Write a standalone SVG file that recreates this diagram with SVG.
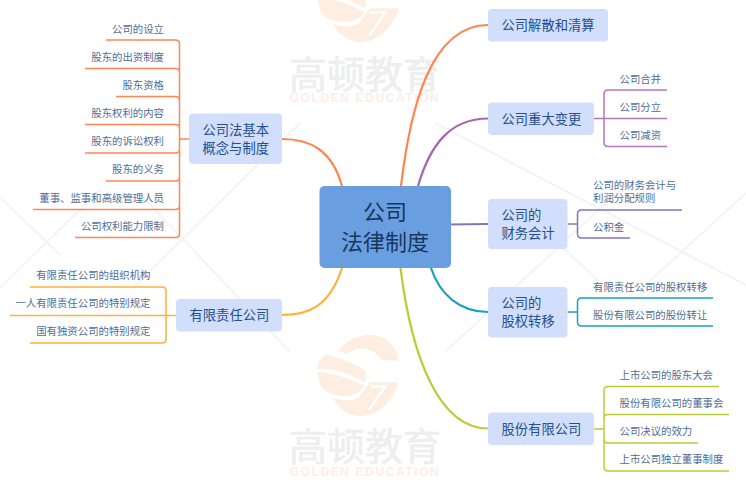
<svg xmlns="http://www.w3.org/2000/svg" width="746" height="485" viewBox="0 0 746 485">
<style>
text{font-family:"Noto Sans CJK SC","Liberation Sans",sans-serif}
.n{fill:#d1dffc}
.t{font-size:13.3px;fill:#254f8c}
.l{font-size:10.4px;fill:#4d6d99}
.e{text-anchor:end}
.c{fill:none;stroke-width:2.2;stroke-linecap:round}
.b{fill:none;stroke-width:1.5}
.wm{font-size:38px;fill:#eeeeee;stroke:#eeeeee;stroke-width:.5;text-anchor:middle}
.ws{font-size:12px;fill:#fdeee5;text-anchor:middle;font-family:"Liberation Sans",sans-serif;font-weight:bold;letter-spacing:1.6px}
.logo{fill:#feeee2}
.x{stroke:#f4f4f4;stroke-width:2.2;fill:none}
</style>
<defs>
<g id="logo" transform="scale(.3333)">
<path class="logo" d="M205 62C230 30 265 15 300 15C345 15 385 50 385 92L335 90C322 68 295 52 265 56C250 58 240 64 232 72Z"/>
<path class="logo" d="M165 73C210 85 255 100 285 122C288 135 288 145 285 157C240 130 190 112 141 118C143 100 152 85 165 73Z"/>
<path class="logo" d="M143 125C190 128 245 148 283 168C270 190 245 200 215 198C190 195 165 185 153 170C148 155 145 140 143 125Z"/>
<path class="logo" d="M190 205C210 212 240 215 265 203L300 157H385C375 205 330 258 270 258C235 258 205 235 190 205Z"/>
<path d="M300 170H345L298 238" fill="none" stroke="#fff" stroke-width="7"/>
</g>
</defs>
<g id="watermark">
<path class="x" d="M0 197L60 255M0 288L100 190M143 197L290 352M300 123L133 288M435 123L746 285M746 193L640 290M445 352L620 190M560 245L606 288"/>
<use href="#logo" x="270" y="-44"/>
<use href="#logo" x="270" y="330"/>
<text class="wm" x="365" y="88">高顿教育</text>
<text class="ws" x="365" y="101.500">GOLDEN EDUCATION</text>
<text class="wm" x="365" y="460">高顿教育</text>
<text class="ws" x="365" y="476">GOLDEN EDUCATION</text>
</g>
<g id="connectors">
<g class="c">
<path stroke="#ff8651" d="M401 186C410 110 430 25 488 25"/>
<path stroke="#a566ad" d="M418 186C430 145 450 118.500 488 118.500"/>
<path stroke="#8b72bd" d="M451 224.500C465 224 475 224 488 224"/>
<path stroke="#18a2bb" d="M431 268C440 295 460 312 488 312"/>
<path stroke="#bacd38" d="M400.500 268C412 360 440 428.500 488 428.500"/>
<path stroke="#ff8651" d="M282 139C310 139 332 150 342 186"/>
<path stroke="#ffb03a" d="M282 315C310 315 330 305 342 268"/>
</g>
<g class="b">
<path stroke="#ff8651" d="M189 139H179.500M106 40H175.500Q179.500 40 179.500 44V233.500Q179.500 237.500 175.500 237.500H75M85 68.500H175.500Q179.500 68.500 179.500 72.500M116 96.500H175.500Q179.500 96.500 179.500 100.500M85 124.500H175.500Q179.500 124.500 179.500 128.500M85 153H175.500Q179.500 153 179.500 149M106 181H175.500Q179.500 181 179.500 177M33 209.500H175.500Q179.500 209.500 179.500 205.500"/>
<path stroke="#ffb03a" d="M176 315.500H10M30 287H162Q166 287 166 291V339Q166 343 162 343H30"/>
<path stroke="#b177bd" d="M594 118.500H667M667 90H608Q604 90 604 94V142.500Q604 146.500 608 146.500H667"/>
<path stroke="#8b72bd" d="M567.500 224H577.500M682 210H581.500Q577.500 210 577.500 214V234Q577.500 238 581.500 238H630"/>
<path stroke="#18a2bb" d="M567.500 312H577.500M713 298H581.500Q577.500 298 577.500 302V322Q577.500 326 581.500 326H713"/>
<path stroke="#bacd38" d="M594 429H604M719 386.500H608Q604 386.500 604 390.500V467Q604 471 608 471H729M729 414.500H608Q604 414.500 604 418.500M698 443H608Q604 443 604 439"/>
</g>
</g>
<g id="center"><rect x="319.500" y="186" width="131.500" height="82" rx="5" fill="#699fe0"/>
<text x="385" y="219.500" font-size="22" fill="#17375f" text-anchor="middle">公司</text>
<text x="385" y="250" font-size="22" fill="#17375f" text-anchor="middle">法律制度</text></g>
<g id="n1"><rect class="n" x="189" y="113.500" width="93" height="50.500" rx="4"/><text class="t" x="202.500" y="135">公司法基本</text><text class="t" x="202.500" y="153">概念与制度</text></g>
<g id="n2"><rect class="n" x="176" y="299" width="106" height="32.500" rx="4"/><text class="t" x="189.500" y="320">有限责任公司</text></g>
<g id="n3"><rect class="n" x="488" y="9" width="120" height="32.500" rx="4"/><text class="t" x="501.500" y="30">公司解散和清算</text></g>
<g id="n4"><rect class="n" x="488" y="102.500" width="106" height="32.500" rx="4"/><text class="t" x="501.500" y="123.500">公司重大变更</text></g>
<g id="n5"><rect class="n" x="488" y="199" width="79.500" height="50" rx="4"/><text class="t" x="501.500" y="220">公司的</text><text class="t" x="501.500" y="238">财务会计</text></g>
<g id="n6"><rect class="n" x="488" y="287" width="79.500" height="50.500" rx="4"/><text class="t" x="501.500" y="308">公司的</text><text class="t" x="501.500" y="326">股权转移</text></g>
<g id="n7"><rect class="n" x="488" y="412.500" width="106" height="32.500" rx="4"/><text class="t" x="501.500" y="433.500">股份有限公司</text></g>
<g id="l1">
<text class="l e" x="164" y="33">公司的设立</text>
<text class="l e" x="164" y="61">股东的出资制度</text>
<text class="l e" x="164" y="89">股东资格</text>
<text class="l e" x="164" y="117">股东权利的内容</text>
<text class="l e" x="164" y="145">股东的诉讼权利</text>
<text class="l e" x="164" y="173">股东的义务</text>
<text class="l e" x="164" y="202">董事、监事和高级管理人员</text>
<text class="l e" x="164" y="230">公司权利能力限制</text>
</g>
<g id="l2">
<text class="l e" x="150.500" y="279">有限责任公司的组织机构</text>
<text class="l e" x="150.500" y="307">一人有限责任公司的特别规定</text>
<text class="l e" x="150.500" y="335">国有独资公司的特别规定</text>
</g>
<g id="l3">
<text class="l" x="619.500" y="83">公司合并</text>
<text class="l" x="619.500" y="111">公司分立</text>
<text class="l" x="619.500" y="139">公司减资</text>
<text class="l" x="593" y="189">公司的财务会计与</text>
<text class="l" x="593" y="202">利润分配规则</text>
<text class="l" x="593" y="231">公积金</text>
<text class="l" x="593" y="291">有限责任公司的股权转移</text>
<text class="l" x="593" y="319">股份有限公司的股份转让</text>
<text class="l" x="619.500" y="379">上市公司的股东大会</text>
<text class="l" x="619.500" y="407">股份有限公司的董事会</text>
<text class="l" x="619.500" y="435">公司决议的效力</text>
<text class="l" x="619.500" y="463">上市公司独立董事制度</text>
</g>
</svg>
